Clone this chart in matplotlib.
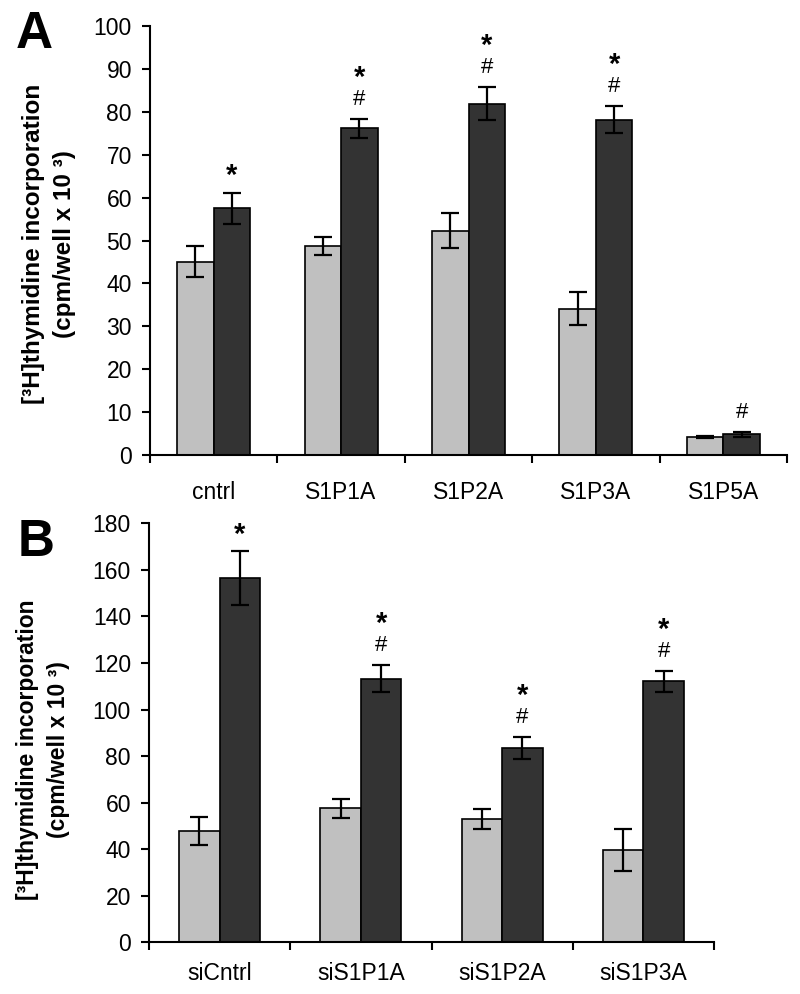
import numpy as np
import matplotlib
matplotlib.use('Agg')
import matplotlib.pyplot as plt

plt.rcParams['font.family'] = ['Liberation Sans', 'DejaVu Sans']

# panel A data
catsA = ['cntrl', 'S1P1A', 'S1P2A', 'S1P3A', 'S1P5A']
lightA = [45.1, 48.7, 52.3, 34.1, 4.2]
lightA_err = [3.7, 2.1, 4.0, 3.9, 0.3]
darkA = [57.5, 76.2, 81.9, 78.2, 4.8]
darkA_err = [3.6, 2.2, 3.9, 3.1, 0.5]
marksA = ['*', '*#', '*#', '*#', '#']

# panel B data
catsB = ['siCntrl', 'siS1P1A', 'siS1P2A', 'siS1P3A']
lightB = [47.7, 57.6, 53.1, 39.6]
lightB_err = [6.1, 4.1, 4.3, 9.1]
darkB = [156.5, 113.3, 83.5, 112.2]
darkB_err = [11.5, 5.7, 4.9, 4.5]
marksB = ['*', '*#', '*#', '*#']

ylabel = '[³H]thymidine incorporation\n(cpm/well x 10 ³)'

light_col = '#c0c0c0'
dark_col = '#333333'

fig = plt.figure(figsize=(8, 9.94), dpi=100)
axA = fig.add_axes([150/800, 1-455/994, (787-150)/800, (455-26)/994])
axB = fig.add_axes([149/800, 1-942.3/994, (714-149)/800, (942.3-523.3)/994])


def draw(ax, cats, light, light_err, dark, dark_err, marks, ymax, ystep, xpad):
    n = len(cats)
    x = np.arange(n)
    w = 0.287
    ekw = dict(elinewidth=1.6, capthick=1.6, ecolor='black')
    ax.bar(x - w/2, light, w, yerr=light_err, color=light_col, edgecolor='black',
           linewidth=1.2, capsize=6.5, error_kw=ekw)
    ax.bar(x + w/2, dark, w, yerr=dark_err, color=dark_col, edgecolor='black',
           linewidth=1.2, capsize=6.5, error_kw=ekw)
    for i in range(n):
        top = dark[i] + dark_err[i]
        if '#' in marks[i]:
            ax.annotate('#', (x[i] + w/2, top), xytext=(0, 14), textcoords='offset points',
                        ha='center', va='center', fontsize=16)
            if '*' in marks[i]:
                ax.annotate('*', (x[i] + w/2, top), xytext=(0, 29.5), textcoords='offset points',
                            ha='center', va='center', fontsize=21, fontweight='bold')
        else:
            ax.annotate('*', (x[i] + w/2, top), xytext=(0, 12), textcoords='offset points',
                        ha='center', va='center', fontsize=21, fontweight='bold')
    ax.set_xlim(-0.5, n - 0.5)
    ax.set_ylim(0, ymax)
    ax.set_yticks(np.arange(0, ymax + 1, ystep))
    ax.set_xticks(x)
    ax.set_xticklabels(cats, fontsize=16.5)
    ax.set_xticks(np.arange(n + 1) - 0.5, minor=True)
    ax.tick_params(axis='x', which='major', length=0, pad=xpad)
    ax.tick_params(axis='x', which='minor', length=6, width=1.5, direction='out')
    ax.tick_params(axis='y', length=6, width=1.5, direction='out', labelsize=16.5, pad=7)
    for s in ['top', 'right']:
        ax.spines[s].set_visible(False)
    for s in ['left', 'bottom']:
        ax.spines[s].set_linewidth(1.5)


draw(axA, catsA, lightA, lightA_err, darkA, darkA_err, marksA, 100, 10, 19)
draw(axB, catsB, lightB, lightB_err, darkB, darkB_err, marksB, 180, 20, 14)

axA.set_ylabel(ylabel, fontsize=17.5, fontweight='bold', linespacing=1.45,
               ha='center', va='center')
axA.yaxis.set_label_coords(-0.158, 0.491)
axB.set_ylabel(ylabel, fontsize=16.5, fontweight='bold', linespacing=1.45,
               ha='center', va='center')
axB.yaxis.set_label_coords(-0.187, 0.459)

fig.text(16/800, 1-34/994, 'A', fontsize=37, fontweight='bold', va='center', ha='left')
fig.text(18/800, 1-543/994, 'B', fontsize=37, fontweight='bold', va='center', ha='left')

fig.savefig('out.png', dpi=100)
